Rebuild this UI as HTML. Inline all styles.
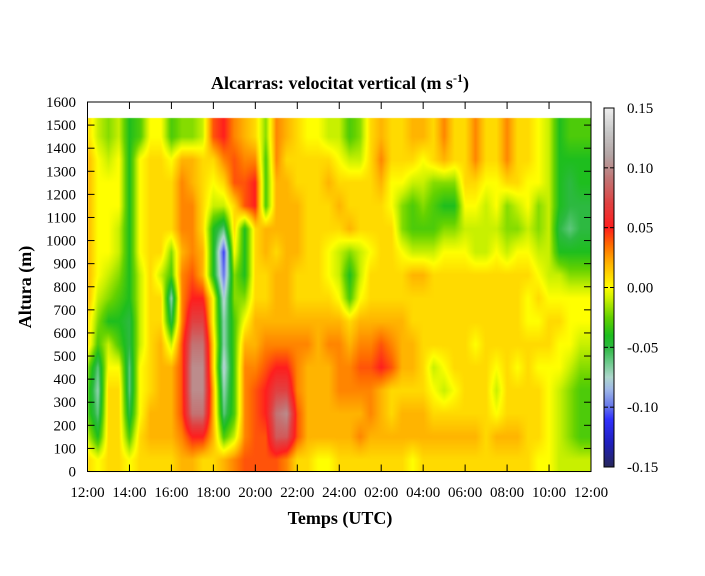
<!DOCTYPE html>
<html><head><meta charset="utf-8"><style>
body{margin:0;background:#fff;width:705px;height:576px;overflow:hidden;position:relative;font-family:"Liberation Serif",serif}
canvas,svg{position:absolute;left:0;top:0}
</style></head><body>
<canvas id="hm" width="705" height="576"></canvas>
<svg id="ov" width="705" height="576"></svg>
<script>
// velocity values in cm/s; columns every 30 min from 12:00 to 12:00 (49), rows are height centers
const heights=[50,150,250,350,450,550,650,750,850,950,1050,1150,1250,1350,1450,1550];
const row50=[1,0,1,1,0,1,1,1,1,2,2,1,1,2,3,4,4,4,4,3,1,1,0,0,1,1,1,1,1,1,1,0,1,1,1,1,1,1,1,1,1,1,1,0,0,-1,-1,-1,-1];
const row150=[-1,-4,1,1,-3,1,2,2,2,3,5,5,2,-3,-1,3,4,4,8,8,4,2,2,2,2,2,3,2,2,2,2,2,2,2,2,2,2,2,1,2,2,2,1,1,0,-1,-2,-3,-3];
const row250=[-3,-6,1,1,-5,0,2,2,2,4,9,9,2,-6,-3,3,4,5,9,10,4,2,2,2,2,2,2,3,2,1,2,2,2,1,1,1,1,1,1,0,1,1,1,1,0,-1,-2,-3,-3];
const row350=[-3,-7,1,1,-6,0,1,2,2,4,10,10,2,-7,-3,3,4,5,7,7,3,2,2,2,3,3,3,3,2,1,1,1,1,0,-1,0,1,1,1,-1,1,1,1,1,0,-1,-2,-3,-3];
const row450=[-2,-6,0,0,-6,0,1,2,2,4,10,10,1,-8,-3,3,3,4,5,5,3,2,2,2,3,3,4,4,5,4,2,2,1,-1,0,1,1,1,1,0,1,0,1,0,0,0,-1,-2,-2];
const row550=[1,-3,-1,-3,-5,-1,1,2,-1,4,9,9,1,-7,-3,2,2,3,3,3,3,3,2,3,3,2,3,3,4,3,2,2,1,1,1,1,1,0,1,1,1,1,1,1,1,0,0,-1,-1];
const row650=[1,-2,-4,-4,-5,-1,1,1,-5,3,7,7,0,-7,-3,0,2,2,2,2,2,2,2,2,2,1,2,2,2,2,2,1,1,1,1,1,1,1,1,1,1,1,0,0,1,1,0,0,0];
const row750=[2,-1,-2,-3,-4,-1,1,1,-7,3,5,5,0,-8,-2,-2,1,1,2,2,1,1,1,1,0,-3,0,1,1,1,1,1,1,1,1,1,1,1,1,1,1,1,0,1,0,0,0,0,0];
const row850=[2,0,-1,-2,-4,-1,1,-1,-3,3,4,2,-4,-10,-2,-4,1,1,2,2,1,1,1,0,-1,-4,-1,1,1,1,1,2,2,1,1,1,1,1,1,1,1,1,1,0,-1,-1,-2,-2,-2];
const row950=[2,0,0,-1,-4,0,1,1,-2,2,3,2,-4,-11,0,-4,1,2,1,2,2,1,1,0,-1,-2,-1,0,1,1,0,-1,-1,-1,0,0,0,-1,-1,0,-1,0,0,-1,-1,-4,-4,-4,-4];
const row1050=[2,0,0,-1,-4,0,1,1,1,3,3,1,-4,-6,1,-4,1,2,2,2,2,1,1,1,1,2,1,1,1,1,-2,-3,-3,-3,-2,-2,-1,-1,-1,-1,-2,-2,-1,-2,-1,-5,-6,-5,-5];
const row1150=[2,0,0,0,-4,0,1,1,1,3,3,1,-1,-1,1,4,5,-3,2,2,2,1,1,1,2,1,1,1,1,0,-2,-3,-2,-3,-4,-4,0,0,-1,0,-2,-1,0,-2,-1,-4,-5,-5,-5];
const row1250=[2,0,0,0,-4,0,1,1,1,3,2,1,0,1,4,4,5,-3,2,2,1,1,1,2,1,1,1,1,2,0,0,-1,-1,-2,-2,-2,1,1,0,0,1,1,0,0,-1,-4,-5,-4,-4];
const row1350=[2,0,-1,0,-4,0,1,1,0,2,2,1,1,3,4,3,3,-3,3,1,1,1,1,1,0,-1,-1,1,3,1,1,1,0,1,2,1,1,3,1,1,3,1,1,0,-1,-4,-4,-4,-4];
const row1450=[1,-1,-2,-1,-4,-3,0,0,-3,-2,-2,-1,4,5,3,2,1,-2,3,2,1,0,0,-1,-1,-3,-2,1,2,1,1,2,2,1,3,1,1,3,1,1,3,1,1,0,-1,-4,-3,-3,-3];
const row1550=[1,-1,-2,-1,-4,-3,0,0,-3,-2,-2,-1,4,5,3,2,1,-2,3,2,1,0,0,-1,-1,-3,-2,1,2,1,1,2,2,1,3,1,1,3,1,1,3,1,1,0,-1,-4,-3,-3,-3];
const rows=[row50,row150,row250,row350,row450,row550,row650,row750,row850,row950,row1050,row1150,row1250,row1350,row1450,row1550];
const xTickLabels=["12:00","14:00","16:00","18:00","20:00","22:00","24:00","02:00","04:00","06:00","08:00","10:00","12:00"];
const yTickValues=[0,100,200,300,400,500,600,700,800,900,1000,1100,1200,1300,1400,1500,1600];
const cbTicks=[0.15,0.10,0.05,0.00,-0.05,-0.10,-0.15];
const dataTop=1530;

const L=87.5,R=591,T=102,B=471.5;
const xS=h=>L+(R-L)*h/24;
const yS=m=>B-(B-T)*m/1600;
const stops=[[-0.15,[40,40,90]],[-0.13,[32,32,190]],[-0.11,[50,50,255]],[-0.10,[100,115,235]],[-0.085,[160,185,232]],[-0.075,[175,215,205]],[-0.06,[95,200,125]],[-0.05,[45,185,65]],[-0.04,[30,190,30]],[-0.025,[100,210,0]],[-0.01,[200,240,0]],[0,[255,255,0]],[0.02,[255,180,0]],[0.035,[255,110,0]],[0.05,[255,30,30]],[0.07,[225,65,65]],[0.09,[195,115,115]],[0.11,[180,165,165]],[0.13,[200,200,200]],[0.15,[240,240,240]]];
function cmap(v){
  if(v<=stops[0][0])return stops[0][1];
  for(let i=1;i<stops.length;i++){if(v<=stops[i][0]){const a=stops[i-1],b=stops[i],t=(v-a[0])/(b[0]-a[0]);return a[1].map((c,k)=>c+(b[1][k]-c)*t);}}
  return stops[stops.length-1][1];
}
function sample(h,m){
  let fi=h*2; fi=Math.max(0,Math.min(rows[0].length-1,fi));
  let i0=Math.floor(fi),i1=Math.min(i0+1,rows[0].length-1),tx=fi-i0;
  let fj=(m-heights[0])/100; fj=Math.max(0,Math.min(heights.length-1,fj));
  let j0=Math.floor(fj),j1=Math.min(j0+1,heights.length-1),ty=fj-j0;
  const a=rows[j0][i0]*(1-tx)+rows[j0][i1]*tx, b=rows[j1][i0]*(1-tx)+rows[j1][i1]*tx;
  return (a*(1-ty)+b*ty)/100;
}
const ctx=document.getElementById('hm').getContext('2d');
const x0=Math.round(L),x1=Math.round(R),y0=Math.round(yS(dataTop)),y1=Math.round(B);
const img=ctx.createImageData(x1-x0,y1-y0);
for(let py=0;py<y1-y0;py++){const m=(B-(y0+py+0.5))/(B-T)*1600;
  for(let px=0;px<x1-x0;px++){const h=(x0+px+0.5-L)/(R-L)*24;const c=cmap(sample(h,m));const k=(py*(x1-x0)+px)*4;img.data[k]=c[0];img.data[k+1]=c[1];img.data[k+2]=c[2];img.data[k+3]=255;}}
ctx.putImageData(img,x0,y0);
const CT=108, CB=467, CL=604, CR=614;
for(let py=CT;py<CB;py++){const v=0.15-0.3*(py-CT+0.5)/(CB-CT);const c=cmap(v);ctx.fillStyle=`rgb(${c[0]|0},${c[1]|0},${c[2]|0})`;ctx.fillRect(CL,py,CR-CL,1);}

const NS='http://www.w3.org/2000/svg',sv=document.getElementById('ov');
function el(t,a,txt){const e=document.createElementNS(NS,t);for(const k in a)e.setAttribute(k,a[k]);if(txt!=null)e.textContent=txt;sv.appendChild(e);return e;}
let e;
e=el('rect',{x:L,y:T,width:R-L,height:B-T,fill:'none',stroke:'#000','stroke-width':1});


xTickLabels.forEach((lab,i)=>{const x=xS(i*2);
  el('line',{x1:x,x2:x,y1:B,y2:B-7,stroke:'#000'});el('line',{x1:x,x2:x,y1:T,y2:T+7,stroke:'#000'});
  e=el('text',{x:x,y:497,'text-anchor':'middle','font-size':15,'font-family':'Liberation Serif,serif'},lab);
  
  });
yTickValues.forEach(v=>{const y=yS(v);
  el('line',{x1:L,x2:L+7,y1:y,y2:y,stroke:'#000'});el('line',{x1:R,x2:R-7,y1:y,y2:y,stroke:'#000'});
  e=el('text',{x:76,y:y+5,'text-anchor':'end','font-size':15,'font-family':'Liberation Serif,serif'},String(v));
  
  });
e=el('rect',{x:CL,y:CT,width:CR-CL,height:CB-CT,fill:'none',stroke:'#000'});


cbTicks.forEach(v=>{const y=CT+(0.15-v)/0.3*(CB-CT);
  el('line',{x1:CL,x2:CL+4,y1:y,y2:y,stroke:'#000'});el('line',{x1:CR,x2:CR-4,y1:y,y2:y,stroke:'#000'});
  e=el('text',{x:627,y:y+5,'font-size':15,'font-family':'Liberation Serif,serif'},v.toFixed(2));
  
  });
e=el('text',{x:340,y:89,'text-anchor':'middle','font-size':18,'font-weight':'bold','font-family':'Liberation Serif,serif'});


e.innerHTML='Alcarras: velocitat vertical (m s<tspan dy="-7" font-size="12">-1</tspan><tspan dy="7">)</tspan>';
e=el('text',{x:340,y:524,'text-anchor':'middle','font-size':18,'font-weight':'bold','font-family':'Liberation Serif,serif'},'Temps (UTC)');


e=el('text',{x:0,y:0,'text-anchor':'middle','font-size':18,'font-weight':'bold','font-family':'Liberation Serif,serif',transform:'translate(31,287) rotate(-90)'},'Altura (m)');


</script>
</body></html>
